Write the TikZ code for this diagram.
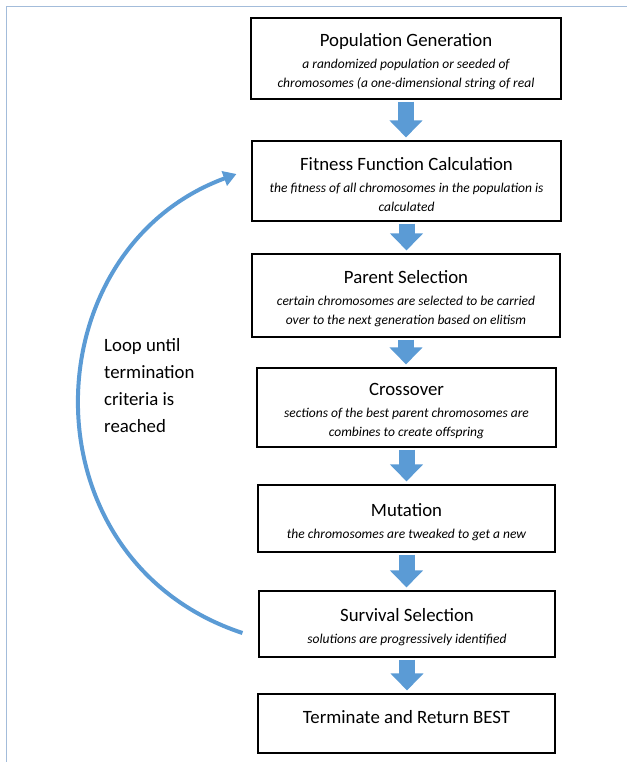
\documentclass[tikz,border=0pt]{standalone}
\usepackage{fontspec}
\setmainfont{Carlito}
\usetikzlibrary{arrows.meta}
\definecolor{stepblue}{HTML}{5B9BD5}
\definecolor{frameblue}{HTML}{A3BCDA}
\tikzstyle{stage} = [draw, line width=1.1pt, align=center, inner sep=0pt, font=\fontsize{13.5}{19}\selectfont\itshape]
\tikzstyle{down} = [line width=16pt, stepblue, -{Triangle[width=32pt,length=17pt]}, shorten <=2pt, shorten >=3pt]
\tikzstyle{back} = [line width=4pt, stepblue, -{Triangle[width=15pt,length=13pt]}]
\newcommand{\stagename}[1]{{\fontsize{18.8}{19}\selectfont\upshape\rule{0pt}{20pt}#1}}

\begin{document}
\begin{tikzpicture}[x=1pt, y=-1pt]
        \useasboundingbox (0,0) rectangle (627,762);
        \draw[frameblue, line width=1.5pt] (6.5,762) -- (6.5,6.5) -- (627,6.5);
        \node[stage, minimum width=310pt, minimum height=81pt] (pop) at (406,58.5) {\stagename{Population Generation}\\[3pt]
                a randomized population or seeded of\\ chromosomes (a one-dimensional string of real};
        \node[stage, minimum width=309pt, minimum height=80pt] (fit) at (406.5,181) {\stagename{Fitness Function Calculation}\\[3pt]
                the fitness of all chromosomes in the population is\\ calculated};
        \node[stage, minimum width=308pt, minimum height=83pt] (parent) at (406,295.5) {\stagename{Parent Selection}\\[3pt]
                certain chromosomes are selected to be carried\\ over to the next generation based on elitism};
        \node[stage, minimum width=299pt, minimum height=79pt] (cross) at (406.5,407.5) {\stagename{Crossover}\\[3pt]
                sections of the best parent chromosomes are\\ combines to create offspring};
        \node[stage, minimum width=297pt, minimum height=67pt] (mut) at (406.5,518.5) {\stagename{Mutation}\\[3pt]
                the chromosomes are tweaked to get a new};
        \node[stage, minimum width=296pt, minimum height=66pt] (surv) at (407,624) {\stagename{Survival Selection}\\[3pt]
                solutions are progressively identified};
        \node[stage, minimum width=297pt, minimum height=59pt, text depth=20pt] (term) at (406.5,723.5) {\stagename{Terminate and Return BEST}};
        % flow between the stages
        \draw[down] (pop.south) -- (pop.south |- fit.north);
        \draw[down] (fit.south) -- (fit.south |- parent.north);
        \draw[down] (parent.south) -- (parent.south |- cross.north);
        \draw[down] (cross.south) -- (cross.south |- mut.north);
        \draw[down] (mut.south) -- (mut.south |- surv.north);
        \draw[down] (surv.south) -- (surv.south |- term.north);
        % loop back
        \draw[back] ([xshift=-16pt, yshift=-9pt]surv.west) .. controls (22,560) and (30,250) .. ([xshift=-15pt, yshift=7pt]fit.west);
        \node[anchor=north west, inner sep=0pt, align=left, font=\fontsize{18.8}{27}\selectfont] (looptext) at (104,338) {Loop until\\ termination\\ criteria is\\ reached};
\end{tikzpicture}
\end{document}
